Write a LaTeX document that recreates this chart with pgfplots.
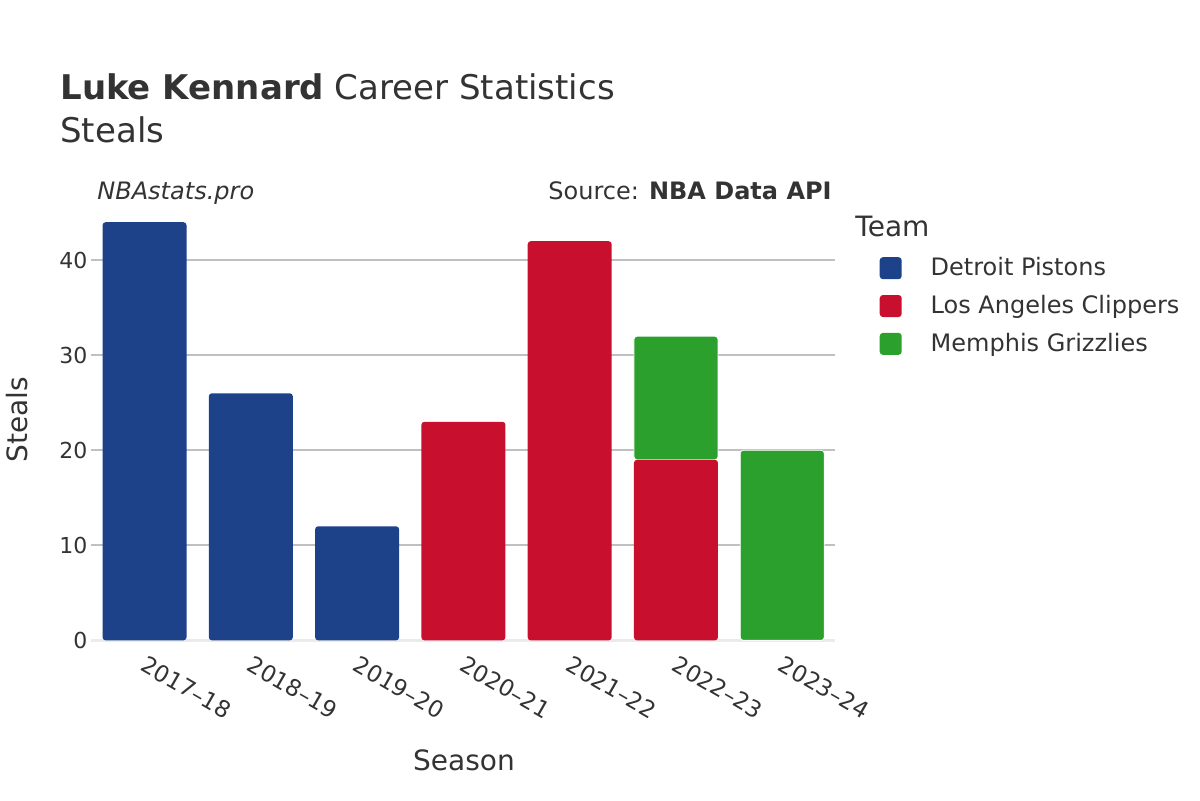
\documentclass[border=0pt]{standalone}
\usepackage{fontspec}
\setmainfont{DejaVu Sans}
\usepackage{pgfplots}
\pgfplotsset{compat=1.18}
\definecolor{det}{RGB}{29,66,138}
\definecolor{lac}{RGB}{200,16,46}
\definecolor{mem}{RGB}{44,160,44}
\definecolor{txt}{RGB}{51,51,51}
\definecolor{gridc}{RGB}{192,192,192}
\definecolor{zeroc}{RGB}{235,235,235}
\begin{document}
\begin{tikzpicture}[x=0.5pt,y=0.5pt]
\path[use as bounding box] (0,0) rectangle (1200,800);
\begin{axis}[
  at={(86,168)}, anchor=south west, scale only axis,
  width=372pt, height=220pt,
  ybar stacked, bar width=0.79,
  xmin=-0.5, xmax=6.5, ymin=0, ymax=46.3,
  xtick={0,...,6},
  xticklabels={2017–18,2018–19,2019–20,2020–21,2021–22,2022–23,2023–24},
  xticklabel style={rotate=-30, anchor=north west, font=\fontsize{11.5}{13}\selectfont, text=txt, xshift=1.5pt, yshift=-2pt},
  ytick={0,10,20,30,40},
  yticklabel style={font=\fontsize{11}{13}\selectfont, text=txt, xshift=1.5pt},
  /pgf/number format/assume math mode=true,
  ymajorgrids, grid style={color=gridc, line width=0.9pt},
  major tick length=0,
  axis x line*=bottom, axis y line*=left,
  x axis line style={color=zeroc, line width=1.2pt, -},
  y axis line style={draw=none},
  legend style={at={(1.051,0.889)}, anchor=north west, draw=none, fill=none,
    font=\fontsize{12}{14}\selectfont, text=txt, row sep=4.3pt,
    legend cell align=left},
  legend image code/.code={\fill[#1, draw=none, rounded corners=1.6pt] (0pt,-5.5pt) rectangle (11pt,5.5pt);\path[draw=none, fill=none] (0pt,0pt) -- (23.5pt,0pt);},
]
\addplot+[fill=det, draw=none, rounded corners=1.5pt] coordinates {(0,44) (1,26) (2,12) (3,0) (4,0) (5,0) (6,0)};
\addplot+[fill=lac, draw=none, rounded corners=1.5pt] coordinates {(0,0) (1,0) (2,0) (3,23) (4,42) (5,19) (6,0)};
\addplot+[fill=mem, draw=white, line width=0.4pt, rounded corners=1.5pt] coordinates {(0,0) (1,0) (2,0) (3,0) (4,0) (5,13) (6,20)};
\legend{Detroit Pistons, Los Angeles Clippers, Memphis Grizzlies}
\end{axis}
\node[anchor=base west, text=txt, font=\fontsize{17}{20}\selectfont, inner sep=0] at (60,700) {\textbf{Luke Kennard} Career Statistics};
\node[anchor=base west, text=txt, font=\fontsize{17}{20}\selectfont, inner sep=0] at (60,658) {Steals};
\node[anchor=base west, text=txt, font=\fontsize{12}{14}\itshape, inner sep=0] at (97,601) {NBAstats.pro};
\node[anchor=base east, text=txt, font=\fontsize{12}{14}\selectfont, inner sep=0] at (832,601) {Source: \textbf{NBA Data API}};
\node[anchor=base west, text=txt, font=\fontsize{14}{16}\selectfont, inner sep=0] at (855,564) {Team};
\node[anchor=center, rotate=90, text=txt, font=\fontsize{14}{16}\selectfont, inner sep=0] at (17,380) {Steals};
\node[anchor=center, text=txt, font=\fontsize{14}{16}\selectfont, inner sep=0] at (464,40) {Season};
\end{tikzpicture}
\end{document}
